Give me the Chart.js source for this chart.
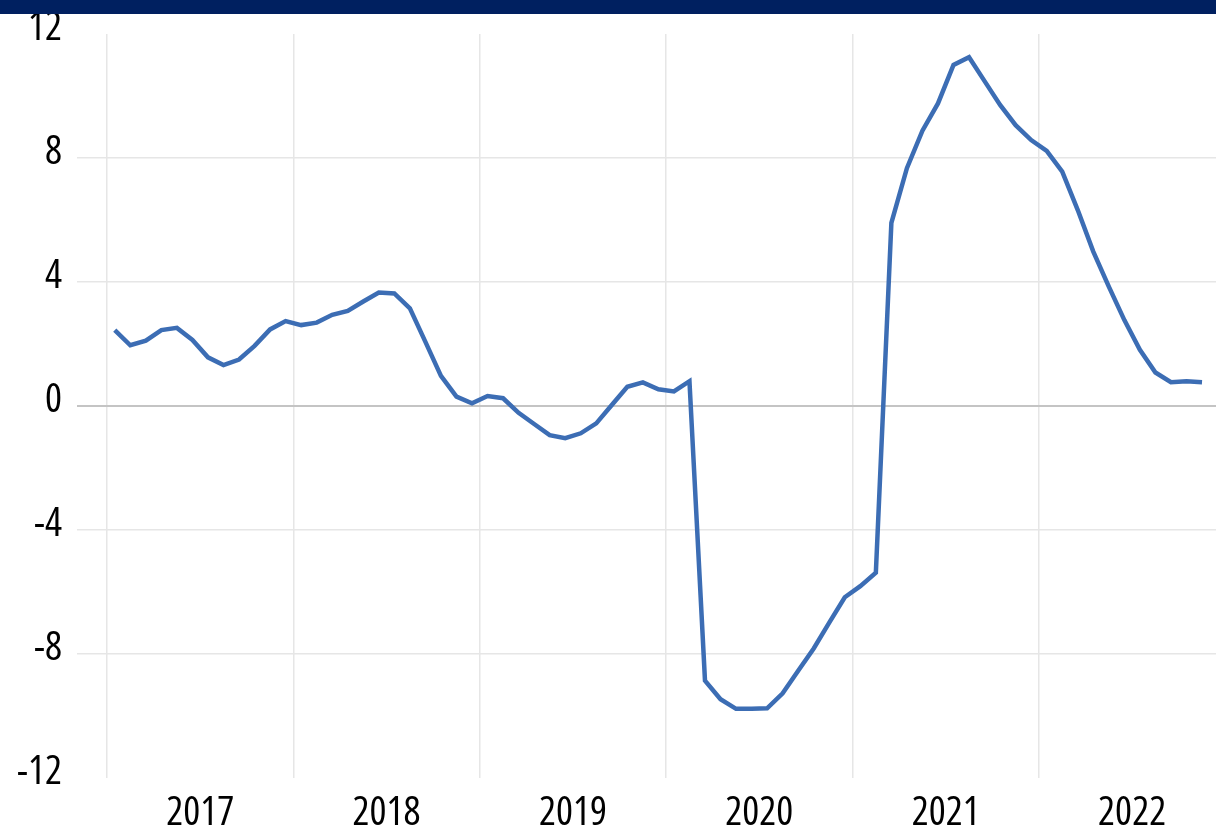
<!DOCTYPE html>
<html>
<head>
<meta charset="utf-8">
<script src="https://cdn.jsdelivr.net/npm/chart.js@4"></script>
<style>
  html, body { margin: 0; padding: 0; background: #fff; overflow: hidden; }
  #wrap { position: relative; width: 1216px; height: 832px; }
  #topbar { position: absolute; left: 0; top: 0; width: 1216px; height: 14px; background: #002060; }
  canvas { position: absolute; left: 0; top: 0; }
</style>
</head>
<body>
<div id="wrap">
  <canvas id="lineCanvas" width="1216" height="832"></canvas>
  <div id="topbar"></div>
</div>
<script>
// monthly series, Jan 2017 .. Nov 2022
var years = ['2017', '2018', '2019', '2020', '2021', '2022'];
var yTicks = [-12, -8, -4, 0, 4, 8, 12];
var values = [
	2.45, 1.96, 2.11, 2.45, 2.52, 2.13, 1.57, 1.32, 1.50, 1.94, 2.47, 2.74,   // 2017
	2.61, 2.69, 2.94, 3.07, 3.37, 3.66, 3.63, 3.15, 2.07, 0.97, 0.30, 0.09,   // 2018
	0.32, 0.25, -0.22, -0.58, -0.94, -1.04, -0.88, -0.56, 0.03, 0.62, 0.76, 0.54, // 2019
	0.47, 0.80, -8.86, -9.46, -9.77, -9.77, -9.75, -9.27, -8.54, -7.82, -6.99, -6.17, // 2020
	-5.81, -5.38, 5.91, 7.67, 8.88, 9.76, 11.0, 11.25, 10.48, 9.71, 9.06, 8.58, // 2021
	8.23, 7.56, 6.32, 4.98, 3.85, 2.77, 1.81, 1.08, 0.77, 0.80, 0.77          // 2022
];

// narrow look: Open Sans is variable, so the width goes in through the weight field
var fontFamily = "'Open Sans', 'DejaVu Sans Condensed', sans-serif";
var xFont = { family: fontFamily, size: 40, weight: "400 semi-condensed" };
// small lineHeight so the top label does not push the plot area down
var yFont = { family: fontFamily, size: 40, weight: "400 semi-condensed", lineHeight: 0.9 };

// each point sits in the middle of its month
var points = values.map(function (v, i) { return { x: i + 0.5, y: v }; });

var ctx = document.getElementById("lineCanvas");
var lineChart = new Chart(ctx, {
	type: "line",
	data: {
		datasets: [{
			data: points,
			borderColor: "#3c6db4",
			borderWidth: 4.5,
			pointRadius: 0,
			tension: 0,
			fill: false
		}]
	},
	options: {
		responsive: false,
		animation: false,
		devicePixelRatio: 1,
		layout: { padding: { top: 34, right: 0, bottom: 0, left: 0 } },
		plugins: { legend: { display: false }, tooltip: { enabled: false } },
		scales: {
			x: {
				type: "linear",
				min: 0,
				max: 71.4,
				afterBuildTicks: function (scale) {
					var t = [];
					for (var v = 0; v <= years.length * 12; v += 6) {
						if (v <= scale.max) t.push({ value: v });
					}
					scale.ticks = t;
				},
				afterFit: function (scale) { scale.height = 54; },
				border: { display: false },
				grid: {
					drawTicks: false,
					lineWidth: 1.5,
					color: function (c) {
						return (c.tick && c.tick.value % 12 === 0) ? "#e6e6e6" : "rgba(0,0,0,0)";
					}
				},
				ticks: {
					autoSkip: false,
					maxRotation: 0,
					padding: 12,
					color: "#000",
					font: xFont,
					callback: function (v) {
						if (v % 12 !== 6) return "";
						return years[(v - 6) / 12];
					}
				}
			},
			y: {
				min: -12,
				max: 12,
				afterBuildTicks: function (scale) {
					scale.ticks = yTicks.map(function (v) { return { value: v }; });
				},
				afterFit: function (scale) { scale.width = 107; },
				border: { display: false },
				grid: {
					drawTicks: true,
					tickLength: 30,
					lineWidth: function (c) { return c.tick && c.tick.value === 0 ? 2 : 1.5; },
					color: function (c) {
						if (!c.tick) return "#e6e6e6";
						if (Math.abs(c.tick.value) === 12) return "rgba(0,0,0,0)";
						return c.tick.value === 0 ? "#c4c4c4" : "#e6e6e6";
					}
				},
				ticks: {
					padding: 15,
					labelOffset: -5,
					color: "#000",
					font: yFont
				}
			}
		}
	}
});
</script>
</body>
</html>
